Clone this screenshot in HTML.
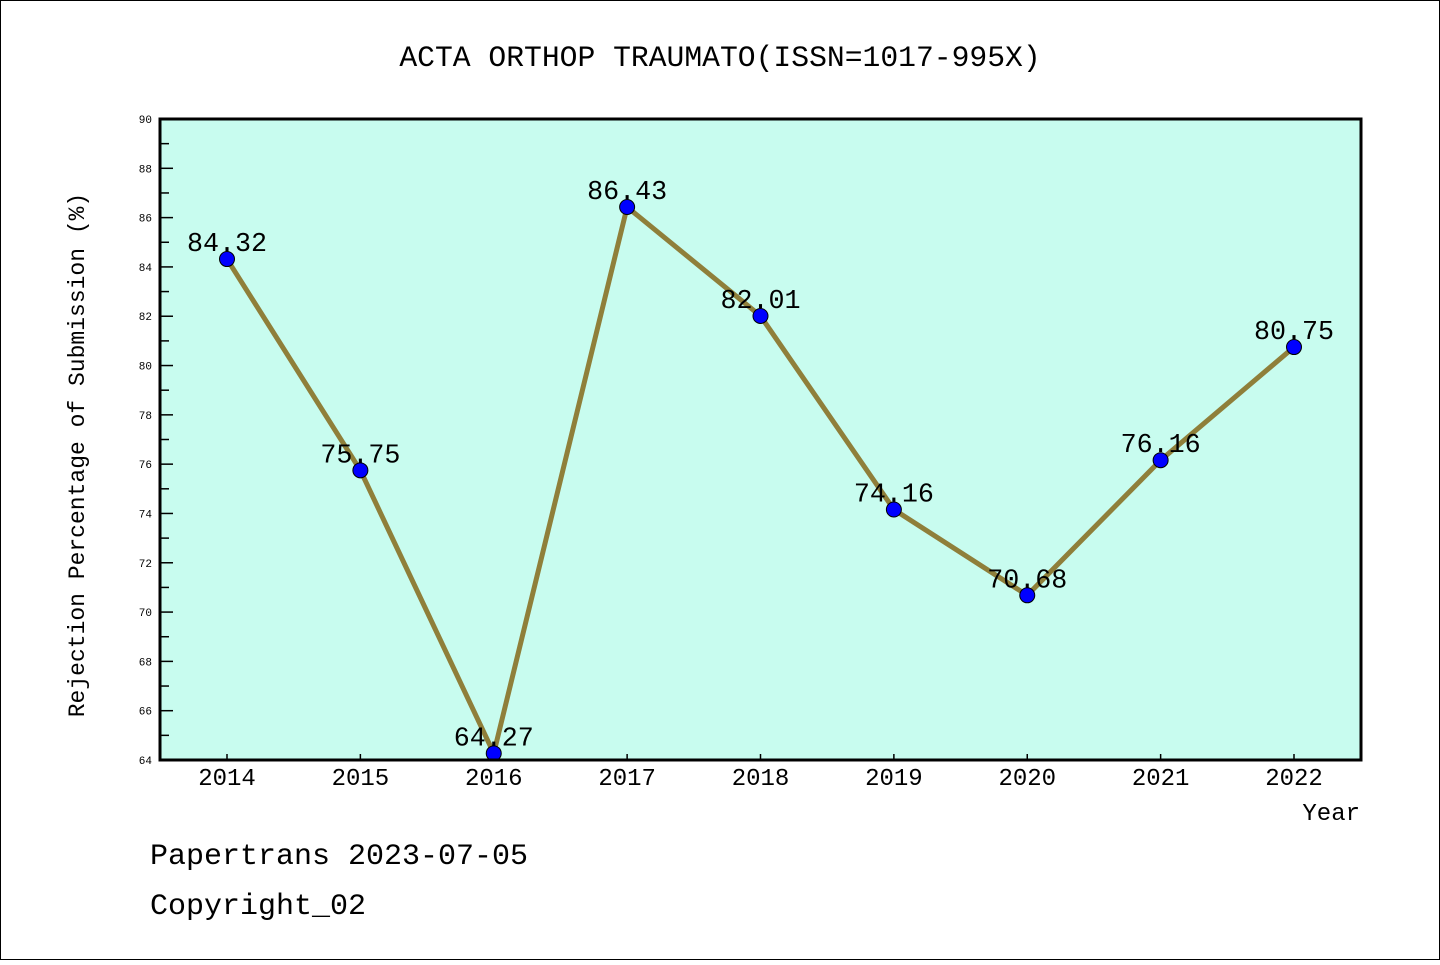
<!DOCTYPE html>
<html><head><meta charset="utf-8"><style>
body{margin:0;background:#fff}
svg text{font-family:"Liberation Mono","WenQuanYi Zen Hei",monospace}
</style></head><body>
<svg width="1440" height="960" xmlns="http://www.w3.org/2000/svg">
<rect x="0.5" y="0.5" width="1439" height="959" fill="#fff" stroke="#000"/>
<text x="720" y="66" font-size="29.7" text-anchor="middle">ACTA ORTHOP TRAUMATO(ISSN=1017-995X)</text>
<rect x="160" y="119" width="1201" height="641" fill="#c8fcef"/>
<g id="axes"></g>
<rect x="160" y="119" width="1201" height="641" fill="none" stroke="#000" stroke-width="3"/>
<text transform="translate(84,455) rotate(-90)" font-size="23" text-anchor="middle">Rejection Percentage of Submission (%)</text>
<text x="1360" y="820" font-size="24" text-anchor="end">Year</text>
<text x="150" y="864" font-size="30">Papertrans 2023-07-05</text>
<text x="150" y="914" font-size="30">Copyright_02</text>
</svg>
<script>
const years=["2014","2015","2016","2017","2018","2019","2020","2021","2022"];
const values=[84.32,75.75,64.27,86.43,82.01,74.16,70.68,76.16,80.75];
const labels=["84.32","75.75","64.27","86.43","82.01","74.16","70.68","76.16","80.75"];
const yTicks=[64,66,68,70,72,74,76,78,80,82,84,86,88,90];
const NS="http://www.w3.org/2000/svg";
const g=document.getElementById('axes');
const xs=i=>227+i*(1294-227)/(years.length-1);
const ys=v=>760-(v-64)/(90-64)*641;
function mk(t,a){const e=document.createElementNS(NS,t);for(const k in a)e.setAttribute(k,a[k]);g.appendChild(e);return e;}
yTicks.forEach(v=>{
 const l=mk('line',{x1:160,x2:173,y1:ys(v),y2:ys(v),stroke:'#000','stroke-width':1.5});
 
 
 if(v<90){const m=mk('line',{x1:160,x2:169,y1:ys(v+1),y2:ys(v+1),stroke:'#000','stroke-width':1.5});
 
 }
 const t=mk('text',{x:152,y:ys(v)+4,'font-size':11,'text-anchor':'end'});t.textContent=v;
 
 
});
years.forEach((y,i)=>{
 const l=mk('line',{x1:xs(i),x2:xs(i),y1:760,y2:754,stroke:'#000','stroke-width':1.5});
 
 
 const t=mk('text',{x:xs(i),y:785,'font-size':24,'text-anchor':'middle'});t.textContent=y;
 
 
});
const p=mk('polyline',{points:values.map((v,i)=>xs(i)+','+ys(v)).join(' '),fill:'none',stroke:'#8f7f3a','stroke-width':5});


values.forEach((v,i)=>{
 const c=mk('circle',{cx:xs(i),cy:ys(v),r:7.5,fill:'#0000ff',stroke:'#000','stroke-width':1});
 
 
 const t=mk('text',{x:xs(i),y:ys(v)-8,'font-size':26.7,'text-anchor':'middle'});t.textContent=labels[i];
 
 
});
</script>
</body></html>
